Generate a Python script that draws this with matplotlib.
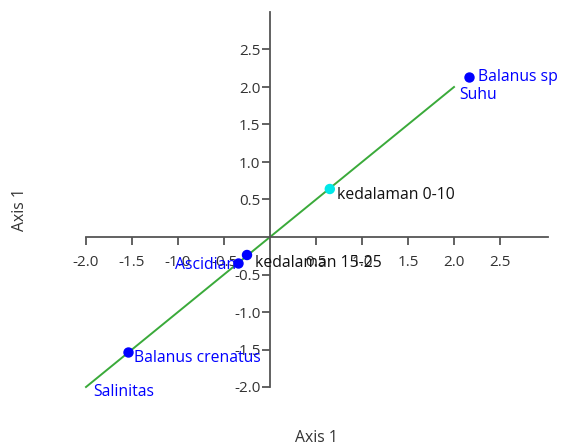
import matplotlib.pyplot as plt

# ordination scores
species = ['Balanus sp', 'Balanus crenatus', 'Ascidian']
species_x = [2.16, -1.54, -0.35]
species_y = [2.13, -1.53, -0.34]

sites = ['kedalaman 0-10', 'kedalaman 15-25']
sites_x = [0.65, -0.25]
sites_y = [0.64, -0.24]
site_colors = ['#00e8e8', '#0000ff']

env = ['Suhu', 'Salinitas']
env_x = [2.0, -2.0]
env_y = [2.0, -2.0]

ticks = [-2.0, -1.5, -1.0, -0.5, 0.5, 1.0, 1.5, 2.0, 2.5]

plt.rcParams['font.family'] = ['Open Sans', 'DejaVu Sans']
FS = 11.3

fig = plt.figure(figsize=(5.61, 4.48), dpi=100)
ax = fig.add_axes([0, 0, 1, 1])
ax.set_xlim(-270 / 92, (561 - 270) / 92)
ax.set_ylim(-(448 - 237) / 75, 237 / 75)

# environmental vector as a line through origin
ax.plot(env_x, env_y, color='#3aaa3a', lw=1.4, zorder=2)

ax.scatter(species_x, species_y, s=42, color='#0000ff', zorder=3)
ax.scatter(sites_x, sites_y, s=42, color=site_colors, zorder=3)

# labels (offsets in points)
ax.annotate(species[0], (species_x[0], species_y[0]), xytext=(7, 0), textcoords='offset points',
            va='center', ha='left', color='#0000ff', fontsize=FS)
ax.annotate(species[1], (species_x[1], species_y[1]), xytext=(4, -4.5), textcoords='offset points',
            va='center', ha='left', color='#0000ff', fontsize=FS)
ax.annotate(species[2], (species_x[2], species_y[2]), xytext=(-1, -1.5), textcoords='offset points',
            va='center', ha='right', color='#0000ff', fontsize=FS)
ax.annotate(sites[0], (sites_x[0], sites_y[0]), xytext=(5, -4), textcoords='offset points',
            va='center', ha='left', color='#111111', fontsize=FS)
ax.annotate(sites[1], (sites_x[1], sites_y[1]), xytext=(5.5, -5.5), textcoords='offset points',
            va='center', ha='left', color='#111111', fontsize=FS)
ax.annotate(env[0], (env_x[0], env_y[0]), xytext=(4, -6), textcoords='offset points',
            va='center', ha='left', color='#0000ff', fontsize=FS)
ax.annotate(env[1], (env_x[1], env_y[1]), xytext=(5, -3.5), textcoords='offset points',
            va='center', ha='left', color='#0000ff', fontsize=FS)

# axes crossing at zero
for s in ['top', 'right']:
    ax.spines[s].set_visible(False)
ax.spines['left'].set_position(('data', 0))
ax.spines['bottom'].set_position(('data', 0))
ax.spines['left'].set_bounds(-2.0, 3.0)
ax.spines['bottom'].set_bounds(-2.0, 3.02)
for s in ['left', 'bottom']:
    ax.spines[s].set_color('#555555')
    ax.spines[s].set_linewidth(1.3)
ax.set_xticks(ticks)
ax.set_yticks(ticks)
ax.set_xticklabels(['%.1f' % t for t in ticks])
ax.set_yticklabels(['%.1f' % t for t in ticks])
ax.tick_params(direction='out', length=6, width=1.3, color='#555555',
               labelcolor='#333333', labelsize=11)
ax.tick_params(axis='x', pad=7)
ax.tick_params(axis='y', pad=1)
ax.patch.set_visible(False)

fig.text(316 / 561, 1 - 438 / 448, 'Axis 1', ha='center', va='center', fontsize=FS, color='#333333')
fig.text(20 / 561, 1 - 210 / 448, 'Axis 1', ha='center', va='center', fontsize=FS,
         color='#333333', rotation=90)

fig.savefig('out.png', dpi=100)
